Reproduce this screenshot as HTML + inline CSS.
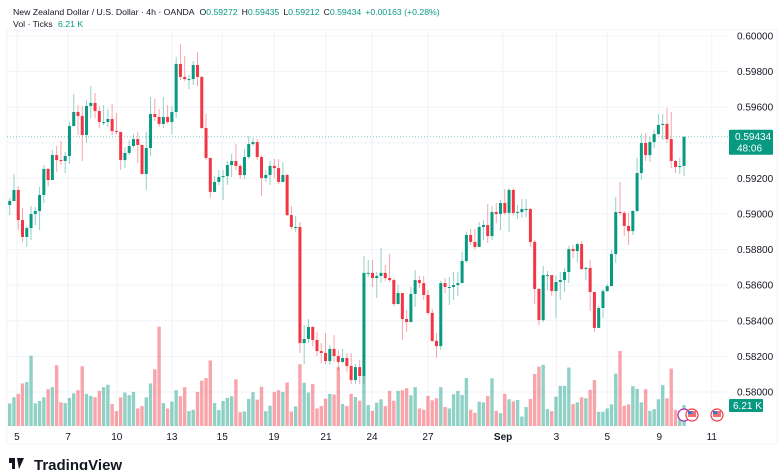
<!DOCTYPE html>
<html><head><meta charset="utf-8"><style>
html,body{margin:0;padding:0;background:#fff;}
svg{display:block;font-family:"Liberation Sans",sans-serif;}
</style></head><body>
<svg id="chart" width="780" height="470" viewBox="0 0 780 470" xmlns="http://www.w3.org/2000/svg">
<rect x="0" y="0" width="780" height="470" fill="#ffffff"/>
<g id="grid"></g>
<g id="vol"></g>
<g id="candles"></g>
<g id="axes"></g>
<text x="13" y="15" font-size="8.7" fill="#131722">New Zealand Dollar / U.S. Dollar · 4h · OANDA <tspan dx="3">O</tspan><tspan fill="#089981">0.59272</tspan><tspan dx="4">H</tspan><tspan fill="#089981">0.59435</tspan><tspan dx="4">L</tspan><tspan fill="#089981">0.59212</tspan><tspan dx="4">C</tspan><tspan fill="#089981">0.59434</tspan><tspan dx="4" fill="#089981">+0.00163 (+0.28%)</tspan></text>
<text x="13" y="27" font-size="8.7" fill="#131722">Vol · Ticks <tspan dx="3" fill="#089981">6.21 K</tspan></text>
<g>
<rect x="9" y="458" width="6" height="5" fill="#131722"/><rect x="12" y="458" width="3" height="11" fill="#131722"/>
<polygon points="17,458 24,458 19,469" fill="#131722"/>
<text x="34" y="470" font-size="15" font-weight="bold" fill="#131722">TradingView</text>
</g>
</svg>
<script>
const closes=[0.59073,0.59135,0.58966,0.58871,0.58921,0.59000,0.59017,0.59107,0.59253,0.59191,0.59331,0.59303,0.59298,0.59326,0.59494,0.59573,0.59551,0.59444,0.59607,0.59624,0.59579,0.59517,0.59517,0.59534,0.59466,0.59461,0.59303,0.59343,0.59382,0.59421,0.59388,0.59225,0.59371,0.59562,0.59545,0.59506,0.59545,0.59517,0.59573,0.59843,0.59770,0.59758,0.59758,0.59837,0.59770,0.59483,0.59315,0.59124,0.59180,0.59208,0.59213,0.59275,0.59298,0.59270,0.59219,0.59320,0.59393,0.59404,0.59320,0.59202,0.59219,0.59270,0.59258,0.59180,0.59219,0.58994,0.58927,0.58927,0.58275,0.58298,0.58365,0.58292,0.58230,0.58219,0.58174,0.58242,0.58202,0.58169,0.58191,0.58146,0.58067,0.58140,0.58090,0.58669,0.58669,0.58640,0.58652,0.58669,0.58640,0.58629,0.58494,0.58556,0.58410,0.58393,0.58551,0.58629,0.58612,0.58545,0.58444,0.58287,0.58258,0.58612,0.58590,0.58590,0.58601,0.58612,0.58736,0.58882,0.58843,0.58815,0.58927,0.58938,0.58876,0.59011,0.59000,0.59062,0.59006,0.59135,0.59006,0.59011,0.59028,0.59028,0.58843,0.58579,0.58404,0.58657,0.58657,0.58567,0.58618,0.58629,0.58674,0.58803,0.58792,0.58831,0.58691,0.58697,0.58562,0.58360,0.58472,0.58567,0.58595,0.58775,0.59011,0.59006,0.58933,0.58904,0.59017,0.59230,0.59399,0.59331,0.59404,0.59449,0.59500,0.59506,0.59421,0.59298,0.59264,0.59270,0.59434];
const highs=[0.59090,0.59225,0.59157,0.59034,0.58933,0.59045,0.59039,0.59152,0.59275,0.59258,0.59360,0.59382,0.59410,0.59348,0.59517,0.59674,0.59612,0.59607,0.59640,0.59719,0.59680,0.59607,0.59612,0.59590,0.59618,0.59567,0.59455,0.59376,0.59416,0.59449,0.59461,0.59382,0.59461,0.59657,0.59646,0.59590,0.59657,0.59612,0.59607,0.59882,0.59955,0.59888,0.59781,0.59860,0.59910,0.59775,0.59562,0.59315,0.59213,0.59247,0.59247,0.59298,0.59337,0.59393,0.59281,0.59365,0.59438,0.59427,0.59421,0.59331,0.59247,0.59298,0.59309,0.59309,0.59292,0.59225,0.59045,0.58989,0.58955,0.58376,0.58410,0.58371,0.58337,0.58275,0.58331,0.58264,0.58320,0.58236,0.58242,0.58219,0.58219,0.58157,0.58180,0.58764,0.58742,0.58742,0.58674,0.58809,0.58713,0.58775,0.58640,0.58601,0.58551,0.58461,0.58590,0.58685,0.58652,0.58652,0.58573,0.58466,0.58331,0.58624,0.58640,0.58646,0.58674,0.58674,0.58787,0.58899,0.58916,0.58916,0.58955,0.58966,0.59056,0.59045,0.59062,0.59079,0.59140,0.59146,0.59146,0.59051,0.59084,0.59084,0.59034,0.58854,0.58584,0.58708,0.58680,0.58652,0.58652,0.58674,0.58697,0.58820,0.58826,0.58837,0.58848,0.58702,0.58742,0.58539,0.58483,0.58579,0.58607,0.58798,0.59096,0.59180,0.59017,0.59006,0.59022,0.59315,0.59449,0.59455,0.59433,0.59472,0.59562,0.59562,0.59596,0.59573,0.59303,0.59315,0.59435];
const lows=[0.58994,0.59079,0.58910,0.58843,0.58815,0.58854,0.58938,0.58910,0.59062,0.59157,0.59191,0.59236,0.59275,0.59230,0.59281,0.59494,0.59444,0.59298,0.59399,0.59539,0.59539,0.59483,0.59500,0.59489,0.59444,0.59449,0.59247,0.59258,0.59331,0.59371,0.59287,0.59219,0.59135,0.59326,0.59522,0.59489,0.59483,0.59506,0.59449,0.59539,0.59753,0.59747,0.59702,0.59725,0.59719,0.59478,0.59303,0.59090,0.59124,0.59163,0.59079,0.59163,0.59208,0.59247,0.59197,0.59197,0.59309,0.59382,0.59303,0.59101,0.59180,0.59163,0.59202,0.59169,0.59180,0.58989,0.58916,0.58899,0.58219,0.58157,0.58275,0.58258,0.58202,0.58163,0.58157,0.58152,0.58169,0.58124,0.58163,0.58112,0.58045,0.58045,0.58045,0.58045,0.58646,0.58590,0.58528,0.58612,0.58624,0.58618,0.58483,0.58506,0.58292,0.58337,0.58393,0.58478,0.58584,0.58517,0.58433,0.58281,0.58191,0.58236,0.58556,0.58489,0.58517,0.58539,0.58652,0.58725,0.58826,0.58803,0.58826,0.58854,0.58837,0.58854,0.58949,0.58910,0.58994,0.58899,0.58994,0.58972,0.58978,0.58983,0.58815,0.58494,0.58376,0.58393,0.58573,0.58539,0.58416,0.58517,0.58562,0.58612,0.58753,0.58730,0.58685,0.58629,0.58455,0.58337,0.58360,0.58416,0.58562,0.58595,0.58725,0.58994,0.58876,0.58826,0.58882,0.59011,0.59191,0.59298,0.59292,0.59371,0.59444,0.59416,0.59399,0.59258,0.59230,0.59225,0.59213];
const firstOpen=0.59051;
const volumes=[6.7,8.5,9.5,12.6,13.0,20.8,6.7,7.4,8.5,10.9,11.5,18.0,7.0,6.8,8.3,9.7,10.6,17.7,9.5,8.9,8.5,10.4,11.5,12.2,6.5,4.4,8.5,9.9,9.1,10.1,5.2,5.9,8.5,12.6,16.8,29.4,6.8,5.2,7.2,10.6,8.8,11.5,4.4,4.8,10.1,13.4,14.2,19.4,6.8,4.7,7.4,8.3,8.8,13.8,4.1,4.3,8.0,10.0,7.8,11.6,4.4,6.0,10.1,10.6,10.1,12.9,4.3,5.8,18.3,12.8,9.9,12.4,5.2,5.9,8.1,9.5,9.3,17.4,6.5,5.9,9.5,8.6,7.5,14.9,6.2,4.5,6.9,7.9,5.9,10.4,7.5,10.4,10.6,11.2,9.1,11.5,5.2,4.8,8.9,7.6,8.2,11.5,5.6,5.2,9.4,10.4,9.2,14.2,4.8,3.9,7.2,7.0,8.9,14.1,4.5,3.8,9.5,7.9,7.3,7.7,2.8,5.6,8.0,15.4,17.6,18.1,5.0,4.4,8.7,11.9,11.9,17.3,6.5,7.0,8.5,8.2,10.7,13.6,4.2,4.2,5.2,6.4,15.5,22.2,6.0,6.4,11.8,11.0,7.0,10.9,4.5,5.0,7.9,12.1,8.2,17.0,4.8,4.5,6.2];
const priceTicks=[0.600,0.598,0.596,0.594,0.592,0.590,0.588,0.586,0.584,0.582,0.580];
const dateLabels=["5","7","10","13","15","19","21","24","27","Sep","3","5","9","11"];
const dateIdx=[1.7,13.7,25.1,38,49.8,61.9,74.1,84.9,98,115.6,128.1,140,152.2,164.5];
const lastPrice=0.59434, lastVol=6.21;

const NS="http://www.w3.org/2000/svg";
function el(tag,attrs,parent){const e=document.createElementNS(NS,tag);for(const k in attrs)e.setAttribute(k,attrs[k]);parent.appendChild(e);return e;}
function xOf(i){return 9.7+4.268*i;}
function yOf(p){return 36+(0.6-p)*17800;}
function yV(v){return 426-v*3.378;}
const G="#089981",R="#f23645";
const grid=document.getElementById('grid'),axes=document.getElementById('axes');
const cg=document.getElementById('candles'),vg=document.getElementById('vol');

priceTicks.forEach(p=>{
  const l=el('line',{x1:7,x2:728,y1:yOf(p),y2:yOf(p),stroke:'#f0f3fa','stroke-width':1},grid);
  
  
  const t=el('text',{x:737,y:yOf(p)+3.5,'font-size':10,fill:'#131722'},axes);
  t.textContent=p.toFixed(5);
  
  
});
dateLabels.forEach((d,k)=>{
  const x=xOf(dateIdx[k]);
  const l=el('line',{x1:x,x2:x,y1:30,y2:426,stroke:'#f0f3fa','stroke-width':1},grid);
  
  
  const t=el('text',{x:x,y:440,'font-size':10,fill:'#131722','text-anchor':'middle','font-weight':d==='Sep'?'bold':'normal'},axes);
  t.textContent=d;
  
  
});
const border=el('rect',{x:7,y:30,width:770,height:414,fill:'none',stroke:'#f0f3fa'},grid);



for(let i=0;i<closes.length;i++){
  const o=i===0?firstOpen:closes[i-1],c=closes[i];
  const up=c>=o, col=up?G:R, x=xOf(i);
  const vb=el('rect',{x:x-1.7,y:yV(volumes[i]),width:3.4,height:426-yV(volumes[i]),fill:col,'fill-opacity':0.45},vg);
  
  
  const w=el('line',{x1:x,x2:x,y1:yOf(highs[i]),y2:yOf(lows[i]),stroke:col,'stroke-opacity':0.45,'stroke-width':1},cg);
  
  
  const t=Math.min(yOf(o),yOf(c)),h=Math.max(1,Math.abs(yOf(o)-yOf(c)));
  const b=el('rect',{x:x-1.5,y:t,width:3,height:h,fill:col},cg);
  
  
}
const py=yOf(lastPrice);
const pl=el('line',{x1:7,x2:728,y1:py,y2:py,stroke:G,'stroke-opacity':0.5,'stroke-dasharray':'1,2'},axes);


const pb=el('rect',{x:729,y:py-7,width:44,height:25,fill:G,rx:1},axes);


const pt=el('text',{x:735,y:py+3.5,'font-size':10,fill:'#fff'},axes);pt.textContent=lastPrice.toFixed(5);


const ct=el('text',{x:737,y:py+15,'font-size':10,fill:'#fff'},axes);ct.textContent='48:06';


const vy=yV(lastVol);
const vbb=el('rect',{x:729,y:vy-6,width:34,height:13,fill:G,rx:1},axes);


const vt=el('text',{x:733,y:vy+4,'font-size':10,fill:'#fff'},axes);vt.textContent='6.21 K';


[[684,'#9c27b0'],[692,R],[717,R]].forEach(([x,c])=>{
  const e=el('circle',{cx:x,cy:415,r:6,fill:'#fff',stroke:c,'stroke-width':1.2},axes);
  
  
  if(c===R){el('rect',{x:x-4,y:411,width:8,height:6,fill:'#e57373'},axes);el('rect',{x:x-4,y:411,width:4,height:3,fill:'#3f6fd1'},axes);}
});
</script>
</body></html>
